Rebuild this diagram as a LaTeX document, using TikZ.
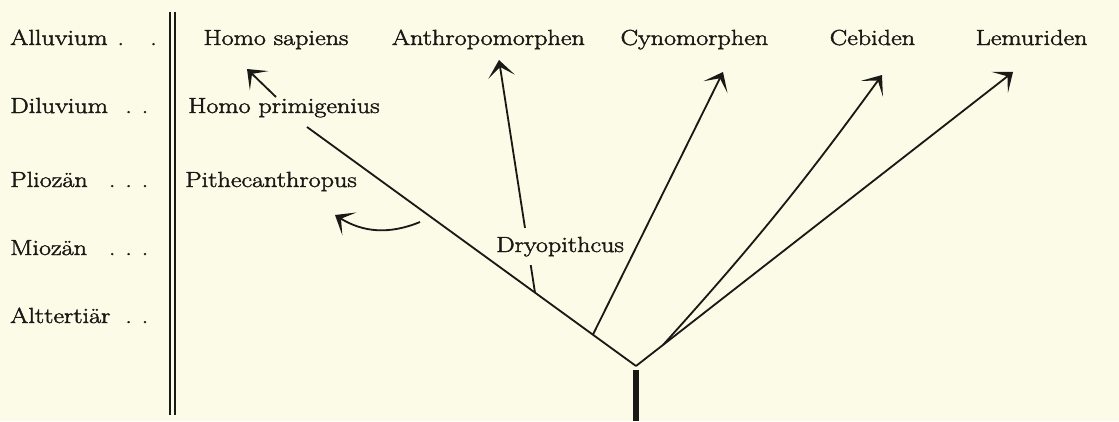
\documentclass[tikz,border=0pt]{standalone}
\usepackage{fontspec}
\setmainfont{Latin Modern Roman}[FakeStretch=1.2, FakeBold=2]
\usetikzlibrary{calc,arrows.meta}
\definecolor{paper}{RGB}{252,251,232}
\definecolor{ink}{RGB}{25,25,22}
\newcommand{\eradot}{\makebox[0.41cm][r]{.}}
\newcommand{\eragap}{\hspace{0.41cm}}
\newcommand{\eraline}[2]{\makebox[3.45cm][l]{#1\hfill#2}}
\tikzset{
  era/.style   ={anchor=base west, inner sep=0pt,
                 font=\fontsize{15.5}{18}\selectfont, text=ink},
  taxon/.style ={anchor=base, inner sep=0pt, font=\fontsize{15.5}{18}\selectfont, text=ink},
  stem/.style  ={line width=1.3pt, ink},
  stemarr/.style={stem, -{Stealth[length=12pt, width=19pt, inset=7pt]}},
  trunk/.style ={line width=4.5pt, ink},
  rule/.style  ={line width=0.8pt, ink},
}

\begin{document}
\begin{tikzpicture}
  \fill[paper] (0,0) rectangle (27.975,10.525);
  \useasboundingbox (0,0) rectangle (27.975,10.525);
  % periods
  \node[era] (alluv) at (0.25,9.4)   {\eraline{Alluvium}{\eradot\eragap\eradot}};
  \node[era] (diluv) at (0.25,7.7)   {\eraline{Diluvium}{\eradot\eradot}};
  \node[era] (plio)  at (0.25,5.85)  {\eraline{Pliozän}{\eradot\eradot\eradot}};
  \node[era] (mio)   at (0.25,4.15)  {\eraline{Miozän}{\eradot\eradot\eradot}};
  \node[era] (altt)  at (0.25,2.45)  {\eraline{Alttertiär}{\eradot\eradot}};
  \draw[rule] (4.25,10.225) -- (4.25,0.15);
  \draw[rule] (4.375,10.225) -- (4.375,0.15);
  % taxa
  \node[taxon] (sapiens) at (6.9,9.4)   {Homo sapiens};
  \node[taxon] (anthro)  at (12.21,9.4) {Anthropomorphen};
  \node[taxon] (cyno)    at (17.36,9.4) {Cynomorphen};
  \node[taxon] (cebid)   at (21.81,9.4) {Cebiden};
  \node[taxon] (lemur)   at (25.79,9.4) {Lemuriden};
  \node[taxon, anchor=base west] (primig) at (4.7,7.7)   {Homo primigenius};
  \node[taxon, anchor=base west] (pithec) at (4.625,5.85) {Pithecanthropus};
  % tree
  \coordinate (root)     at (15.9,1.375);
  \coordinate (trunktop) at (15.9,1.28);
  \coordinate (base)     at (15.9,0);
  \coordinate (leftend)  at (7.675,7.35);
  \coordinate (lemtip)   at (25.325,8.725);
  \coordinate (cebtip)   at (22.05,8.65);
  \coordinate (cyntip)   at (18.075,8.725);
  \coordinate (anttip)   at (12.475,9.025);
  \coordinate (saptail)  at (6.9,8.1);
  \coordinate (saptip)   at (6.175,8.8);
  \coordinate (pitstart) at (10.5,4.975);
  \coordinate (pittip)   at (8.375,5.15);
  \coordinate (fork1) at ($(root)!0.307!(leftend)$);
  \coordinate (fork2) at ($(root)!0.131!(leftend)$);
  \coordinate (fork3) at ($(root)!0.072!(lemtip)$);
  \draw[trunk] (base) -- (trunktop);
  \draw[stemarr] (fork1) -- (anttip);
  \node[taxon, fill=paper, inner ysep=6pt, inner xsep=1pt] (dryo) at (14.0,4.225) {Dryopithcus};
  \draw[stem] (root) -- (leftend);
  \draw[stemarr] (root) -- (lemtip);
  \draw[stemarr] (fork3) to[bend right=3] (cebtip);
  \draw[stemarr] (fork2) -- (cyntip);
  \draw[stemarr] (saptail) -- (saptip);
  \draw[stemarr] (pitstart) to[bend left=27] (pittip);
\end{tikzpicture}
\end{document}
